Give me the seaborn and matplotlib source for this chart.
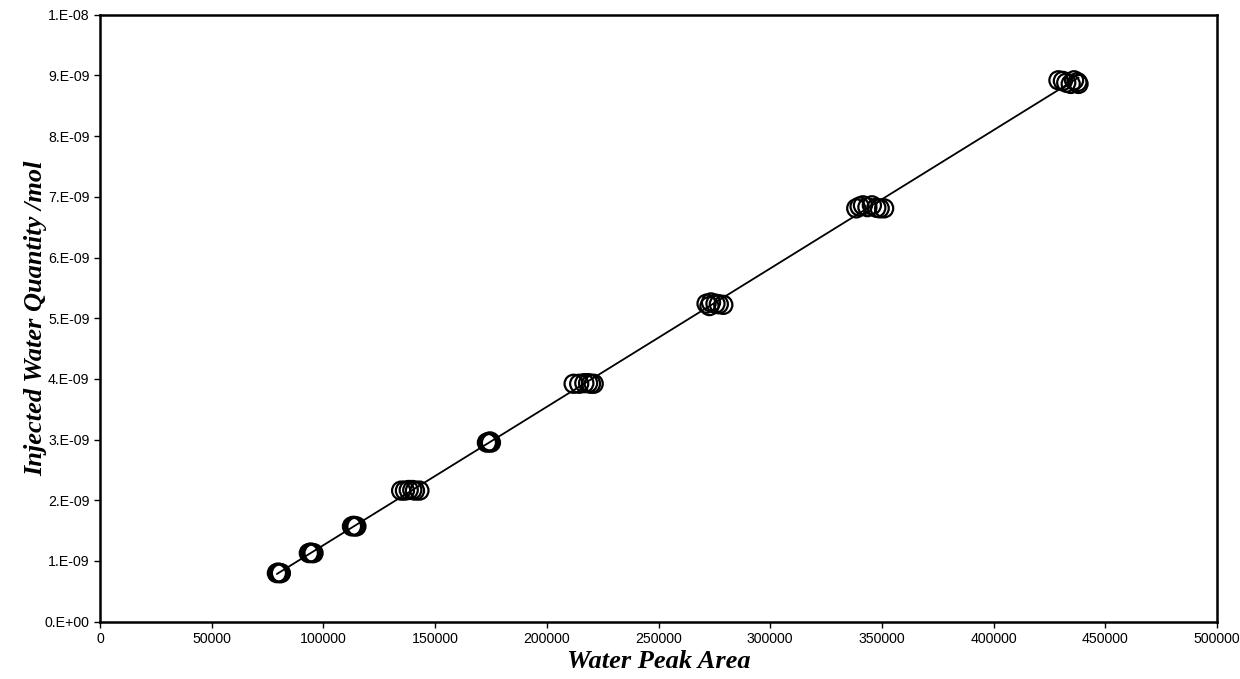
import matplotlib
matplotlib.use("Agg")
import matplotlib.pyplot as plt
import seaborn as sns
import numpy as np
import pandas as pd

# Data
water_peak_area = [
    79200, 79800, 80500, 81000,
    93500, 94300, 95000, 95600,
    112800, 113500, 114200, 114800,
    134800, 136500, 138200, 139800, 141000, 143000,
    173200, 173900, 174600, 175000,
    212000, 214500, 216800, 218500, 219800, 221000,
    271500, 272800, 273500, 275500, 277000, 279000,
    338500, 340000, 341500, 343500, 345500, 347500, 349000, 351000,
    429000, 431000, 432500, 434500, 436000, 437500, 438000,
]
injected_quantity = [
    0.80e-9, 0.81e-9, 0.80e-9, 0.80e-9,
    1.13e-9, 1.14e-9, 1.13e-9, 1.13e-9,
    1.57e-9, 1.58e-9, 1.57e-9, 1.57e-9,
    2.16e-9, 2.16e-9, 2.17e-9, 2.17e-9, 2.16e-9, 2.16e-9,
    2.95e-9, 2.96e-9, 2.97e-9, 2.95e-9,
    3.92e-9, 3.92e-9, 3.93e-9, 3.93e-9, 3.92e-9, 3.92e-9,
    5.24e-9, 5.20e-9, 5.26e-9, 5.24e-9, 5.23e-9, 5.22e-9,
    6.81e-9, 6.84e-9, 6.86e-9, 6.83e-9, 6.86e-9, 6.82e-9, 6.81e-9, 6.81e-9,
    8.92e-9, 8.91e-9, 8.88e-9, 8.86e-9, 8.92e-9, 8.89e-9, 8.86e-9,
]
x_ticks = [0, 50000, 100000, 150000, 200000, 250000, 300000, 350000, 400000, 450000, 500000]
x_tick_labels = ["0", "50000", "100000", "150000", "200000", "250000", "300000",
                 "350000", "400000", "450000", "500000"]
y_ticks = [0, 1e-9, 2e-9, 3e-9, 4e-9, 5e-9, 6e-9, 7e-9, 8e-9, 9e-9, 1e-8]
y_tick_labels = ["0.E+00", "1.E-09", "2.E-09", "3.E-09", "4.E-09", "5.E-09",
                 "6.E-09", "7.E-09", "8.E-09", "9.E-09", "1.E-08"]

df = pd.DataFrame({"area": water_peak_area, "qty": injected_quantity})

sns.set_style("ticks")
plt.rcParams['font.family'] = ['Liberation Sans', 'DejaVu Sans']
plt.rcParams['text.color'] = 'black'
plt.rcParams['axes.labelcolor'] = 'black'
plt.rcParams['xtick.color'] = 'black'
plt.rcParams['ytick.color'] = 'black'

fig = plt.figure(figsize=(12.4, 6.79), dpi=100)
ax = fig.add_axes([0.0806, 0.0844, 0.9009, 0.8939])

sns.regplot(data=df, x="area", y="qty", ax=ax, scatter=False, ci=None,
            truncate=True, color="black", line_kws={"linewidth": 1.3})
sns.scatterplot(data=df, x="area", y="qty", ax=ax, marker="o", s=170,
                facecolor="none", edgecolor="black", linewidth=1.6, zorder=3)

ax.set_xlim(0, 500000)
ax.set_ylim(0, 1e-8)
ax.set_xticks(x_ticks)
ax.set_xticklabels(x_tick_labels, fontsize=10.2, color="black")
ax.set_yticks(y_ticks)
ax.set_yticklabels(y_tick_labels, fontsize=10.2, color="black")

for sp in ax.spines.values():
    sp.set_visible(True)
    sp.set_color("black")
    sp.set_linewidth(1.8)
ax.tick_params(axis="both", direction="out", length=4, width=1, color="black",
               top=False, right=False, labelcolor="black")

ax.set_xlabel("Water Peak Area", fontsize=19, fontweight="bold", fontstyle="italic",
              family="Liberation Serif", labelpad=3, color="black")
ax.set_ylabel("Injected Water Quantity /mol", fontsize=19, fontweight="bold",
              fontstyle="italic", family="Liberation Serif", labelpad=-2, color="black")

fig.savefig("out.png", dpi=100, facecolor="white")
